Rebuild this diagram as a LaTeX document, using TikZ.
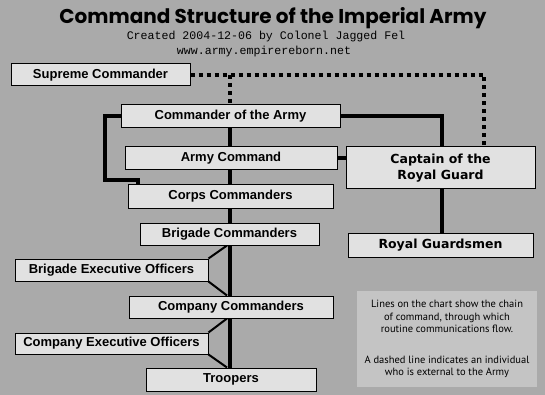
\documentclass[tikz,border=0pt]{standalone}
\usepackage{fontspec}
\setmainfont{Liberation Sans}
\setmonofont{Liberation Mono}
\newfontfamily\titlefont{Poppins}
\newfontfamily\verdfont{DejaVu Sans}
\newfontfamily\notefont{PT Sans}
\usetikzlibrary{backgrounds}
\definecolor{bgcol}{HTML}{AAAAAA}
\definecolor{boxfill}{HTML}{E1E1E1}
\definecolor{notefill}{HTML}{C4C4C4}
\tikzset{
  box/.style={draw=black, line width=1pt, fill=boxfill, inner sep=0pt, anchor=center,
    font=\fontsize{13}{15}\selectfont\bfseries},
  vbox/.style={box, font=\verdfont\fontsize{12.5}{16}\selectfont\bfseries, align=center},
  chain/.style={draw=black, line width=4pt},
  side/.style={draw=black, line width=2pt},
  ext/.style={draw=black, line width=4pt, dash pattern=on 4pt off 4pt},
}
\begin{document}
\begin{tikzpicture}[x=1pt,y=-1pt]
\useasboundingbox (0,0) rectangle (545,395);
% titles
\node[anchor=base, inner sep=0pt, font=\titlefont\bfseries\fontsize{20}{22}\selectfont] (title) at (273,24) {Command Structure of the Imperial Army};
\node[anchor=base, inner sep=0pt, font=\ttfamily\fontsize{11.6}{13}\selectfont] (created) at (266,40) {Created 2004-12-06 by Colonel Jagged Fel};
\node[anchor=base, inner sep=0pt, font=\ttfamily\fontsize{11.6}{13}\selectfont] (www) at (264,55) {www.army.empirereborn.net};
% boxes
\node[box, minimum width=179pt, minimum height=22pt] (sup) at (100.5,75) {Supreme Commander};
\node[box, minimum width=219pt, minimum height=23pt] (cota) at (230.5,116.5) {Commander of the Army};
\node[box, minimum width=212pt, minimum height=23pt] (ac) at (231,158.5) {Army Command};
\node[box, minimum width=205pt, minimum height=23pt] (corps) at (230.5,196.5) {Corps Commanders};
\node[box, minimum width=179pt, minimum height=22pt] (brig) at (229.5,234) {Brigade Commanders};
\node[box, minimum width=193pt, minimum height=22pt] (beo) at (111.5,270) {Brigade Executive Officers};
\node[box, minimum width=204pt, minimum height=22pt] (coc) at (231,307) {Company Commanders};
\node[box, minimum width=193pt, minimum height=21pt] (ceo) at (111.5,343.5) {Company Executive Officers};
\node[box, minimum width=170pt, minimum height=23pt] (troop) at (231,379.5) {Troopers};
\node[vbox, minimum width=189pt, minimum height=42pt] (cap) at (440.5,168) {Captain of the\\Royal Guard};
\node[vbox, minimum width=185pt, minimum height=24pt] (rg) at (440.5,245) {Royal Guardsmen};
\node[fill=notefill, inner sep=0pt, minimum width=180pt, minimum height=96pt, align=center,
  font=\notefont\fontsize{10.5}{12.5}\selectfont] (note) at (447,339)
  {Lines on the chart show the chain\\of command, through which\\routine communications flow.\\[18pt]A dashed line indicates an individual\\who is external to the Army};
% helper coordinates
\coordinate (mx) at (230,0);
\coordinate (rx) at (442,0);
\coordinate (dx) at (484,0);
\coordinate (dgx) at (227,0);
\coordinate (lb) at (105,180);
\coordinate (lb2) at (138,180);
\begin{scope}[on background layer]
\fill[bgcol] (0,0) rectangle (545,395);
% main chain
\draw[chain] (cota.south -| mx) -- (troop.north -| mx);
\draw[chain] (cota.east) -- (cota.east -| rx) -- (cap.north -| rx);
\draw[chain] (ac.east) -- (ac.east -| cap.west);
\draw[chain] (cap.south -| rx) -- (rg.north -| rx);
\draw[chain] (cota.west) -| (lb) -- (lb2) -- (lb2 |- corps.north);
% executive officers
\draw[side] (beo.north east) -- (brig.south -| dgx);
\draw[side] (beo.south east) -- (coc.north -| dgx);
\draw[side] (ceo.north east) -- (coc.south -| dgx);
\draw[side] (ceo.south east) -- (troop.north -| dgx);
% external
\draw[ext] (sup.east) -- (sup.east -| dx) -- (dx |- cap.north);
\draw[ext] (sup.east -| mx) -- (cota.north -| mx);
\end{scope}
\end{tikzpicture}
\end{document}
